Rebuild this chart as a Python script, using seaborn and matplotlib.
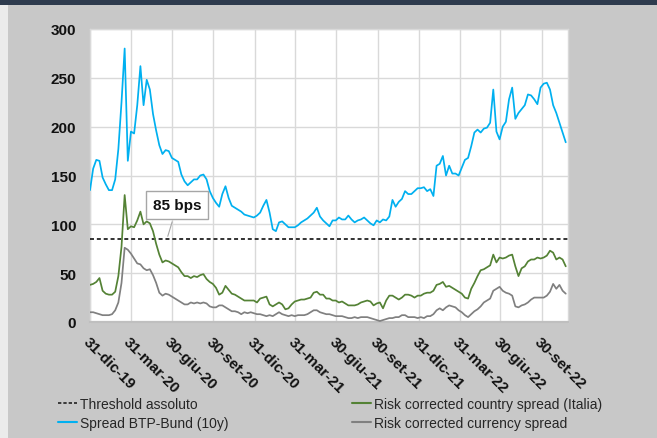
import numpy as np
import pandas as pd
import matplotlib
matplotlib.use('Agg')
import matplotlib.pyplot as plt
from matplotlib.lines import Line2D
from matplotlib.patches import Rectangle
import seaborn as sns

start_date = '2019-12-31'

spread_btp_bund = [135, 157, 166, 165, 148, 141, 135, 135, 146, 177,
                   225, 280, 165, 195, 193, 222, 262, 222, 248, 238,
                   213, 196, 181, 172, 176, 175, 168, 166, 164, 151,
                   144, 140, 143, 146, 146, 150, 151, 146, 134, 127,
                   122, 118, 131, 139, 127, 119, 117, 115, 113, 110,
                   109, 108, 107, 109, 112, 119, 125, 112, 95, 93,
                   102, 103, 100, 97, 97, 97, 99, 102, 104, 106,
                   109, 112, 117, 108, 104, 101, 98, 104, 104, 107,
                   105, 105, 109, 105, 102, 104, 105, 107, 104, 101,
                   99, 104, 102, 105, 104, 108, 125, 118, 123, 126,
                   134, 131, 131, 134, 137, 137, 138, 134, 136, 129,
                   160, 162, 170, 150, 160, 152, 152, 150, 158, 166,
                   168, 180, 194, 197, 194, 198, 199, 204, 238, 195,
                   187, 200, 205, 228, 240, 208, 214, 218, 222, 233,
                   232, 228, 223, 240, 244, 245, 238, 222, 214, 204,
                   194, 184]

country_spread = [38, 39, 41, 45, 32, 29, 28, 28, 31, 47,
                  77, 130, 95, 98, 97, 104, 113, 100, 103, 101,
                  93, 80, 69, 61, 63, 62, 60, 58, 56, 51,
                  47, 47, 45, 47, 46, 48, 49, 44, 41, 39,
                  35, 28, 30, 37, 33, 29, 28, 26, 24, 22,
                  22, 22, 22, 20, 24, 25, 26, 18, 16, 18,
                  20, 18, 13, 14, 18, 21, 22, 23, 23, 24,
                  25, 30, 31, 28, 28, 24, 24, 22, 22, 20,
                  21, 19, 17, 17, 17, 18, 20, 21, 22, 21,
                  17, 19, 20, 14, 22, 27, 27, 25, 23, 25,
                  28, 28, 27, 25, 27, 27, 29, 30, 30, 32,
                  38, 39, 41, 36, 37, 35, 33, 31, 29, 25,
                  24, 34, 40, 47, 53, 54, 56, 58, 69, 61,
                  66, 65, 66, 68, 69, 57, 47, 55, 57, 62,
                  64, 64, 66, 65, 66, 68, 73, 71, 64, 66,
                  64, 57]

currency_spread = [10, 10, 9, 8, 7, 7, 7, 8, 12, 20,
                   40, 76, 74, 70, 65, 60, 59, 55, 53, 54,
                   48, 40, 30, 27, 29, 28, 26, 24, 22, 20,
                   18, 18, 20, 19, 20, 19, 20, 19, 16, 15,
                   15, 17, 17, 15, 13, 11, 11, 10, 8, 10,
                   9, 10, 9, 8, 8, 7, 6, 7, 6, 8,
                   10, 8, 7, 6, 7, 6, 7, 7, 7, 8,
                   10, 12, 12, 10, 9, 8, 8, 7, 6, 6,
                   6, 5, 4, 4, 5, 4, 5, 5, 5, 4,
                   3, 2, 1, 2, 3, 4, 4, 5, 5, 7,
                   7, 5, 5, 5, 4, 5, 4, 6, 6, 8,
                   12, 14, 12, 15, 17, 16, 15, 12, 10, 7,
                   5, 8, 11, 13, 16, 20, 22, 24, 32, 34,
                   36, 32, 30, 29, 27, 16, 15, 17, 18, 20,
                   23, 25, 25, 25, 25, 27, 31, 39, 34, 38,
                   32, 29]

threshold = 85

tick_dates = ['2019-12-31', '2020-03-31', '2020-06-30', '2020-09-30',
              '2020-12-31', '2021-03-31', '2021-06-30', '2021-09-30',
              '2021-12-31', '2022-03-31', '2022-06-30', '2022-09-30']
tick_labels = ['31-dic-19', '31-mar-20', '30-giu-20', '30-set-20',
               '31-dic-20', '31-mar-21', '30-giu-21', '30-set-21',
               '31-dic-21', '31-mar-22', '30-giu-22', '30-set-22']

labels = ['Threshold assoluto', 'Spread BTP-Bund (10y)',
          'Risk corrected country spread (Italia)', 'Risk corrected currency spread']
c_blue = '#00b0f0'
c_green = '#548235'
c_grey = '#808080'

dates = pd.date_range(start_date, periods=len(spread_btp_bund), freq='7D')
df = pd.DataFrame({'date': dates, 'btp': spread_btp_bund,
                   'country': country_spread, 'currency': currency_spread})

sns.set_theme(style='whitegrid')
plt.rcParams['font.family'] = ['Liberation Sans', 'DejaVu Sans']

fig, ax = plt.subplots(figsize=(6.57, 4.39), dpi=100)
fig.patch.set_facecolor('#c8c8c8')
fig.subplots_adjust(left=90/657, right=568/657, top=1-30/439, bottom=1-323/439)

# dark title strip at the top, light margin at the left
fig.add_artist(Rectangle((0, 1-6/439), 1, 6/439, transform=fig.transFigure,
                         color='#2e3b4e', lw=0))
fig.add_artist(Rectangle((0, 0), 8/657, 1-6/439, transform=fig.transFigure,
                         color='#ebebeb', lw=0))

ax.set_facecolor('white')
ax.axhline(threshold, color='#222222', lw=1.3, ls=(0, (2.2, 1.6)), zorder=3)
sns.lineplot(data=df, x='date', y='btp', ax=ax, color=c_blue, lw=1.25, zorder=4)
sns.lineplot(data=df, x='date', y='country', ax=ax, color=c_green, lw=1.25, zorder=4)
sns.lineplot(data=df, x='date', y='currency', ax=ax, color=c_grey, lw=1.25, zorder=4)

ax.annotate('85 bps', xy=(pd.Timestamp('2020-06-19'), threshold),
            xytext=(pd.Timestamp('2020-07-12'), 120),
            ha='center', va='center', fontsize=11, fontweight='bold', color='#111111',
            bbox=dict(boxstyle='square,pad=0.45', fc='white', ec='#a6a6a6', lw=1),
            arrowprops=dict(arrowstyle='-', color='#a6a6a6', lw=0.8), zorder=6)

ax.set_xlim(pd.Timestamp('2019-12-31'), pd.Timestamp('2022-11-27'))
ax.set_ylim(0, 300)
ax.set_yticks(range(0, 301, 50))
ax.set_xticks(pd.to_datetime(tick_dates))
ax.set_xticklabels(tick_labels, rotation=-45, ha='left', va='top',
                   rotation_mode='anchor', fontweight='bold', fontsize=11)
for t in ax.get_yticklabels():
    t.set_fontweight('bold')
    t.set_fontsize(11)
ax.tick_params(axis='both', length=0, colors='#111111')
ax.tick_params(axis='y', pad=10)
ax.tick_params(axis='x', pad=9)
ax.set_xlabel('')
ax.set_ylabel('')

ax.grid(True, color='#d9d9d9', lw=1)
for s in ax.spines.values():
    s.set_color('#d9d9d9')
    s.set_linewidth(1)
ax.spines['bottom'].set_color('#bfbfbf')
ax.spines['bottom'].set_linewidth(1.6)

h_thr = Line2D([], [], color='#222222', lw=1.2, ls=(0, (2, 1.2)))
h_blue = Line2D([], [], color=c_blue, lw=1.5)
h_green = Line2D([], [], color=c_green, lw=1.5)
h_grey = Line2D([], [], color=c_grey, lw=1.5)

leg_kw = dict(loc='upper left', frameon=False, fontsize=10, handlelength=1.4,
              handletextpad=0.15, labelspacing=0.35, borderpad=0, borderaxespad=0)
fig.legend([h_thr, h_blue], labels[:2], bbox_to_anchor=(58/657, 1-398/439), **leg_kw)
fig.legend([h_green, h_grey], labels[2:], bbox_to_anchor=(352/657, 1-398/439), **leg_kw)

fig.savefig('out.png', dpi=100, facecolor=fig.get_facecolor())
